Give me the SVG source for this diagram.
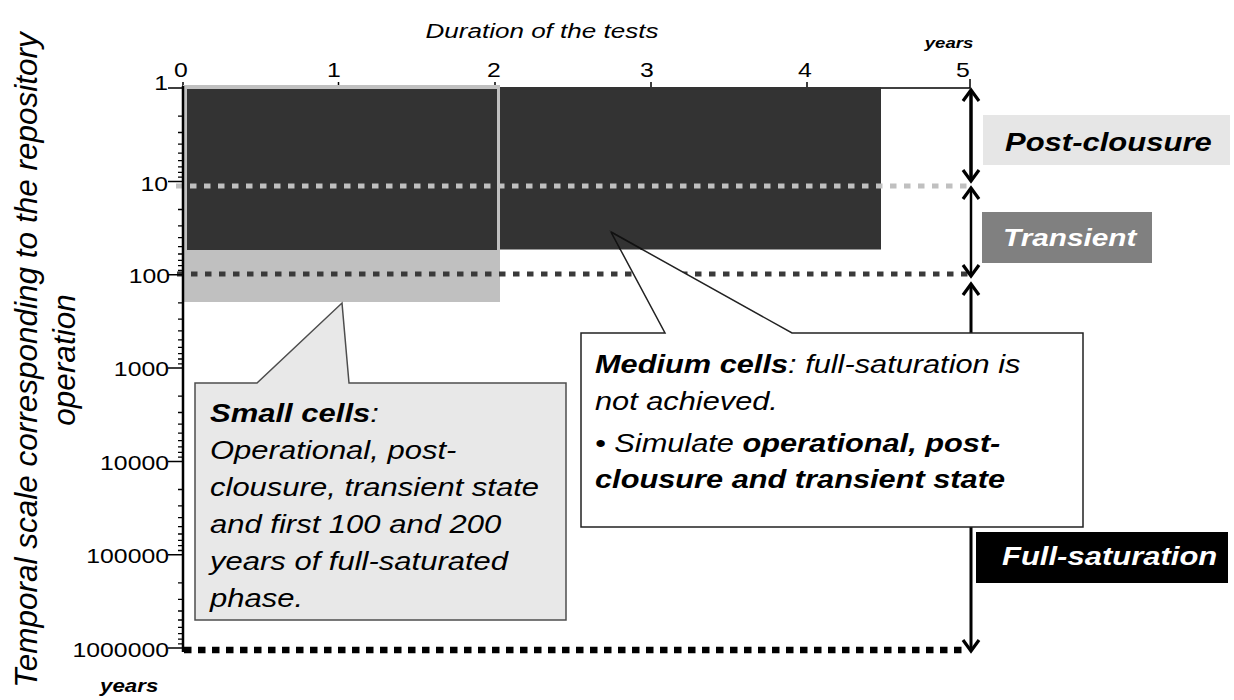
<svg xmlns="http://www.w3.org/2000/svg" width="1234" height="700" viewBox="0 0 1234 700">
<style>
  text{font-family:"Liberation Sans",Arial,Helvetica,sans-serif;fill:#000}
  .it{font-style:italic}
  .bd{font-weight:bold}
  .tk{font-size:20px}
  .body{font-size:25px;font-style:italic}
  .lab{font-size:25px;font-style:italic;font-weight:bold}
  .w{fill:#fff}
  .dot-l{stroke:#c0c0c0;stroke-width:5;stroke-dasharray:6.5 7.5;fill:none}
  .dot-d{stroke:#3a3a3a;stroke-width:5;stroke-dasharray:6.5 7.5;fill:none}
  .dot-k{stroke:#000;stroke-width:6.5;stroke-dasharray:7.5 6.5;fill:none}
  .arr{stroke:#000;fill:none;marker-start:url(#chev);marker-end:url(#chev)}
</style>
<defs>
  <marker id="chev" markerUnits="userSpaceOnUse" markerWidth="14" markerHeight="18" refX="11" refY="8" orient="auto-start-reverse" viewBox="0 0 14 16" overflow="visible">
    <path d="M0,0 L11,8 L0,16" fill="none" stroke="#000" stroke-width="3.2"/>
  </marker>
</defs>

<!-- y-axis title -->
<g id="y-title">
  <text class="it" font-size="31.5" text-anchor="middle" transform="translate(37,360) rotate(-90)">Temporal scale corresponding to the repository</text>
  <text class="it" font-size="31.5" text-anchor="middle" transform="translate(75,360) rotate(-90)">operation</text>
</g>

<!-- top axis line (under bars) -->
<g id="top-axis">
  <path d="M183,88 H970" stroke="#000" stroke-width="1.5" fill="none"/>
  <path d="M183,82 V88 M338.5,82 V88 M495,82 V88 M651,82 V88 M807,82 V88 M970,79 V88" stroke="#000" stroke-width="1.5" fill="none"/>
  <text class="it" font-size="21" text-anchor="middle" transform="translate(542,38) scale(1.24,1)">Duration of the tests</text>
  <text class="it bd" font-size="15" text-anchor="middle" transform="translate(949,48) scale(1.24,1)">years</text>
  <g class="tk" text-anchor="middle">
    <text transform="translate(181,77) scale(1.24,1)">0</text>
    <text transform="translate(334,77) scale(1.24,1)">1</text>
    <text transform="translate(494,77) scale(1.24,1)">2</text>
    <text transform="translate(647,77) scale(1.24,1)">3</text>
    <text transform="translate(805,77) scale(1.24,1)">4</text>
    <text transform="translate(963,77) scale(1.24,1)">5</text>
  </g>
</g>

<!-- bars -->
<g id="bar-small">
  <rect x="183" y="85" width="317" height="217" fill="#c0c0c0"/>
  <rect x="187" y="89" width="310" height="161" fill="#333"/>
</g>
<g id="bar-medium">
  <rect x="500" y="87" width="381" height="162.5" fill="#333"/>
</g>

<!-- dotted limit lines -->
<g id="limits">
  <path class="dot-l" d="M176,186 H968"/>
  <path class="dot-d" d="M177,274 H968"/>
  <path class="dot-k" d="M184,650 H968"/>
</g>

<!-- y axis -->
<g id="y-axis">
  <path d="M183,86 V652" stroke="#000" stroke-width="2.5" fill="none"/>
  <path d="M168,88 H183 M168,181.4 H183 M168,274.7 H183 M168,368 H183 M168,461.4 H183 M168,554.8 H183 M168,648.1 H183" stroke="#000" stroke-width="1.5" fill="none"/>
  <path stroke="#000" stroke-width="1.3" fill="none" d="M178,116.1 H183 M178,132.5 H183 M178,144.2 H183 M178,153.2 H183 M178,160.6 H183 M178,166.9 H183 M178,172.3 H183 M178,177.1 H183
    M178,209.5 H183 M178,225.9 H183 M178,237.6 H183 M178,246.6 H183 M178,254 H183 M178,260.3 H183 M178,265.7 H183 M178,270.5 H183
    M178,302.8 H183 M178,319.2 H183 M178,330.9 H183 M178,339.9 H183 M178,347.3 H183 M178,353.6 H183 M178,359 H183 M178,363.8 H183
    M178,396.1 H183 M178,412.5 H183 M178,424.2 H183 M178,433.2 H183 M178,440.6 H183 M178,446.9 H183 M178,452.3 H183 M178,457.1 H183
    M178,489.5 H183 M178,505.9 H183 M178,517.6 H183 M178,526.6 H183 M178,534 H183 M178,540.3 H183 M178,545.7 H183 M178,550.5 H183
    M178,582.9 H183 M178,599.3 H183 M178,611 H183 M178,620 H183 M178,627.4 H183 M178,633.7 H183 M178,639.1 H183 M178,643.9 H183"/>
  <g class="tk" text-anchor="end">
    <text transform="translate(168,90) scale(1.24,1)">1</text>
    <text transform="translate(168,191) scale(1.24,1)">10</text>
    <text transform="translate(170,283) scale(1.24,1)">100</text>
    <text transform="translate(169,376) scale(1.24,1)">1000</text>
    <text transform="translate(169,470) scale(1.24,1)">10000</text>
    <text transform="translate(169,563) scale(1.24,1)">100000</text>
    <text transform="translate(169,657) scale(1.24,1)">1000000</text>
  </g>
  <text class="it bd" font-size="18" transform="translate(100,692) scale(1.24,1)">years</text>
</g>

<!-- connectors: phase extent arrows -->
<g id="connectors">
  <path class="arr" d="M971,90 V181" stroke-width="3.5"/>
  <path class="arr" d="M971,188 V276" stroke-width="2.5"/>
  <path class="arr" d="M971,284 V651" stroke-width="3"/>
</g>

<!-- phase labels -->
<g id="label-post-clousure">
  <rect x="983" y="115" width="247" height="50" fill="#e6e6e6"/>
  <text class="lab" transform="translate(1005,151) scale(1.24,1)">Post-clousure</text>
</g>
<g id="label-transient">
  <rect x="982" y="212" width="170" height="51" fill="#808080"/>
  <text class="lab w" style="font-size:24px" transform="translate(1003,246) scale(1.24,1)">Transient</text>
</g>
<g id="label-full-saturation">
  <rect x="976" y="532" width="252" height="51" fill="#000"/>
  <text class="lab w" transform="translate(1002,565) scale(1.24,1)">Full-saturation</text>
</g>

<!-- callouts -->
<g id="callout-small">
  <path d="M195,383 H257 L342,303 L349,383 H566 V620 H195 Z" fill="#e8e8e8" stroke="#4d4d4d" stroke-width="1.5"/>
  <text class="body" transform="translate(210,422) scale(1.24,1)"><tspan class="bd">Small cells</tspan>:</text>
  <text class="body" transform="translate(210,459) scale(1.24,1)">Operational, post-</text>
  <text class="body" transform="translate(210,496) scale(1.24,1)">clousure, transient state</text>
  <text class="body" transform="translate(210,533) scale(1.24,1)">and first 100 and 200</text>
  <text class="body" transform="translate(210,570) scale(1.24,1)">years of full-saturated</text>
  <text class="body" transform="translate(210,607) scale(1.24,1)">phase.</text>
</g>
<g id="callout-medium">
  <path d="M581,333 H665 L611,232 L792,333 H1083 V527 H581 Z" fill="#fff" stroke="#222" stroke-width="1.5"/>
  <polygon points="611,232 620.4,249.5 642.4,249.5" fill="#333"/>
  <path d="M611,232 L620.4,249.5 M611,232 L642.4,249.5" stroke="#111" stroke-width="1.5" fill="none"/>
  <text class="body" transform="translate(595,373) scale(1.23,1)"><tspan class="bd">Medium cells</tspan>: full-saturation is</text>
  <text class="body" transform="translate(595,410) scale(1.23,1)">not achieved.</text>
  <text class="body" transform="translate(595,452) scale(1.23,1)">• Simulate <tspan class="bd">operational, post-</tspan></text>
  <text class="body bd" transform="translate(595,488) scale(1.23,1)">clousure and transient state</text>
</g>
</svg>
